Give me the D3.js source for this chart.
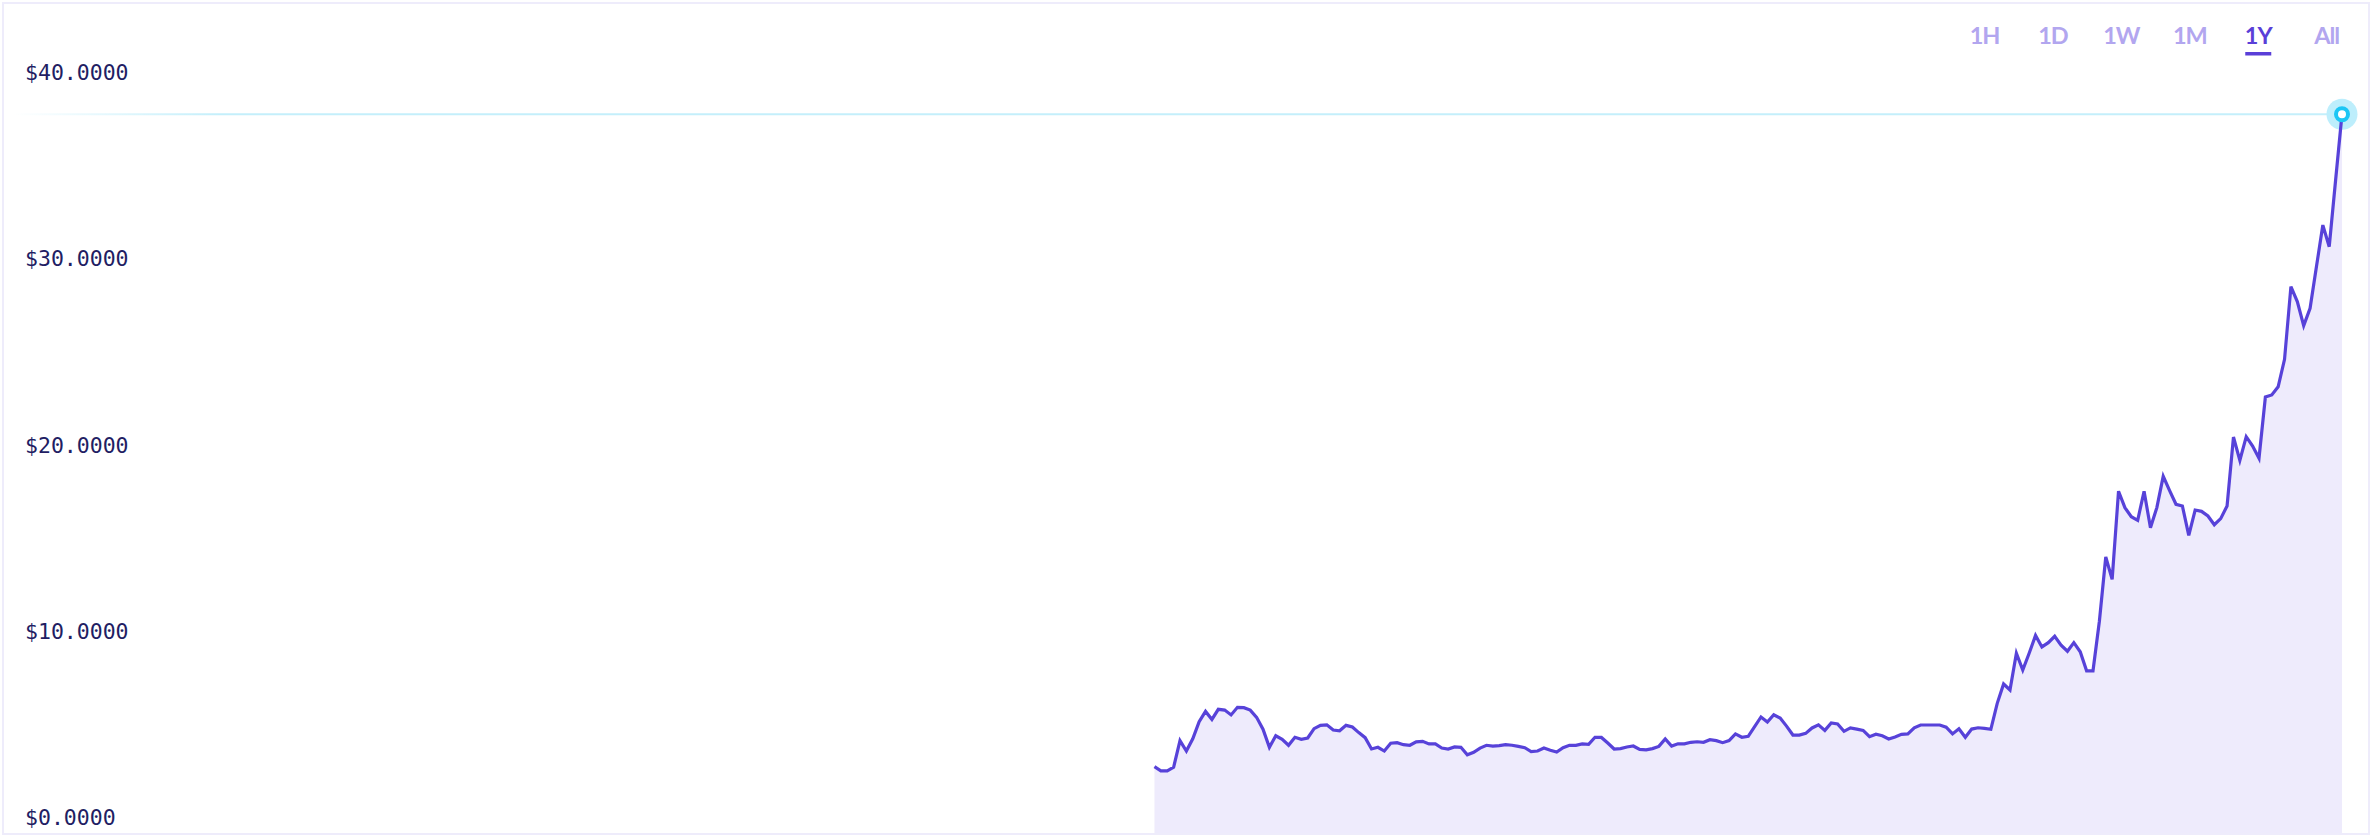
<!DOCTYPE html>
<html>
<head>
  <meta charset="utf-8">
  <title>Price 1Y</title>
  <script src="https://d3js.org/d3.v7.min.js"></script>
  <style>
    body { margin: 0; background: #fff; }
  </style>
</head>
<body>
  <script>
    // Daily closing prices (USD), last part of the 1Y window
    const prices = [
      3.56, 3.34, 3.34, 3.53, 4.96, 4.40, 5.06, 5.98, 6.53, 6.10,
      6.64, 6.60, 6.34, 6.75, 6.73, 6.60, 6.21, 5.57, 4.60, 5.22,
      5.03, 4.71, 5.14, 5.03, 5.10, 5.60, 5.78, 5.81, 5.53, 5.49,
      5.78, 5.69, 5.39, 5.12, 4.51, 4.60, 4.40, 4.82, 4.85, 4.74,
      4.71, 4.89, 4.92, 4.78, 4.78, 4.56, 4.51, 4.62, 4.60, 4.20,
      4.33, 4.56, 4.71, 4.67, 4.69, 4.74, 4.71, 4.65, 4.58, 4.37,
      4.40, 4.56, 4.44, 4.35, 4.58, 4.71, 4.71, 4.78, 4.76, 5.14,
      5.13, 4.83, 4.51, 4.53, 4.62, 4.67, 4.49, 4.46, 4.53, 4.65,
      5.05, 4.67, 4.79, 4.79, 4.87, 4.90, 4.87, 5.01, 4.96, 4.85,
      4.96, 5.32, 5.14, 5.19, 5.71, 6.23, 5.96, 6.35, 6.17, 5.74,
      5.26, 5.26, 5.35, 5.64, 5.81, 5.51, 5.91, 5.85, 5.46, 5.64,
      5.58, 5.51, 5.17, 5.30, 5.22, 5.05, 5.15, 5.30, 5.32, 5.65,
      5.80, 5.80, 5.80, 5.80, 5.68, 5.32, 5.60, 5.14, 5.58, 5.65,
      5.62, 5.57, 6.96, 8.00, 7.68, 9.65, 8.75, 9.65, 10.61, 9.99,
      10.22, 10.56, 10.09, 9.76, 10.22, 9.73, 8.71, 8.71, 11.37, 14.82,
      13.62, 18.35, 17.47, 16.98, 16.79, 18.35, 16.39, 17.47, 19.15, 18.38,
      17.65, 17.56, 15.98, 17.34, 17.27, 17.02, 16.55, 16.88, 17.56, 21.26,
      20.01, 21.28, 20.78, 20.12, 23.41, 23.52, 23.96, 25.43, 29.33, 28.53,
      27.24, 28.17, 30.41, 32.64, 31.48, 35.06, 38.59
    ];
    const yTicks = [0, 10, 20, 30, 40];
    const ranges = ['1H', '1D', '1W', '1M', '1Y', 'All'];
    const activeRange = '1Y';
    const daysInWindow = 365;

    const width = 2372;
    const height = 836;

    const svg = d3.select('body').append('svg')
      .attr('width', width)
      .attr('height', height);

    // frame
    svg.append('rect')
      .attr('x', 3).attr('y', 3)
      .attr('width', width - 6).attr('height', height - 5)
      .attr('fill', 'none')
      .attr('stroke', '#eeecfb')
      .attr('stroke-width', 2);

    // scales: the series sits at the right end of the 1Y window
    const x = d3.scaleLinear()
      .domain([0, daysInWindow - 1])
      .range([18, 2342]);
    const y = d3.scaleLinear()
      .domain([0, 40])
      .range([833, 88]);

    const offset = daysInWindow - prices.length;
    const data = prices.map((v, i) => ({ day: offset + i, value: v }));

    const area = d3.area()
      .x(d => x(d.day))
      .y0(y(0))
      .y1(d => y(d.value));
    const line = d3.line()
      .x(d => x(d.day))
      .y(d => y(d.value));

    svg.append('path')
      .datum(data)
      .attr('d', area)
      .attr('fill', '#eeebfc');

    // y labels
    svg.append('g')
      .selectAll('text')
      .data(yTicks)
      .join('text')
      .attr('x', 25)
      .attr('y', d => y(d) - 8)
      .attr('font-family', '"DejaVu Sans Mono", monospace')
      .attr('font-size', 21.5)
      .attr('fill', '#221d63')
      .text(d => '$' + d3.format('.4f')(d));

    // current price guide line
    const last = data[data.length - 1];
    const grad = svg.append('defs').append('linearGradient')
      .attr('id', 'guide')
      .attr('gradientUnits', 'userSpaceOnUse')
      .attr('x1', 14).attr('x2', 220)
      .attr('y1', 0).attr('y2', 0);
    grad.append('stop').attr('offset', 0).attr('stop-color', '#c4effb').attr('stop-opacity', 0);
    grad.append('stop').attr('offset', 1).attr('stop-color', '#c4effb').attr('stop-opacity', 1);

    svg.append('line')
      .attr('x1', 14)
      .attr('x2', x(last.day))
      .attr('y1', y(last.value))
      .attr('y2', y(last.value))
      .attr('stroke', 'url(#guide)')
      .attr('stroke-width', 2);

    // halo under the line, ring on top
    svg.append('circle')
      .attr('cx', x(last.day)).attr('cy', y(last.value))
      .attr('r', 15.5)
      .attr('fill', '#bdeefc');

    svg.append('path')
      .datum(data)
      .attr('d', line)
      .attr('fill', 'none')
      .attr('stroke', '#5742d9')
      .attr('stroke-width', 3.2)
      .attr('stroke-linejoin', 'miter');

    svg.append('circle')
      .attr('cx', x(last.day)).attr('cy', y(last.value))
      .attr('r', 6)
      .attr('fill', '#fff')
      .attr('stroke', '#1cc6f5')
      .attr('stroke-width', 4);

    // range buttons
    const btn = d3.scalePoint()
      .domain(ranges)
      .range([1984.5, 2326.7]);

    const buttons = svg.append('g')
      .selectAll('g')
      .data(ranges)
      .join('g')
      .attr('transform', d => `translate(${btn(d)},44)`);

    buttons.append('text')
      .attr('text-anchor', 'middle')
      .attr('font-family', 'Lato, sans-serif')
      .attr('font-weight', 'bold')
      .attr('font-size', 23.5)
      .attr('letter-spacing', -1)
      .attr('fill', d => d === activeRange ? '#5a3fd8' : '#b2a6ef')
      .text(d => d);

    buttons.filter(d => d === activeRange)
      .append('rect')
      .attr('x', -13).attr('y', 8)
      .attr('width', 26).attr('height', 3.5)
      .attr('fill', '#5a3fd8');
  </script>
</body>
</html>
